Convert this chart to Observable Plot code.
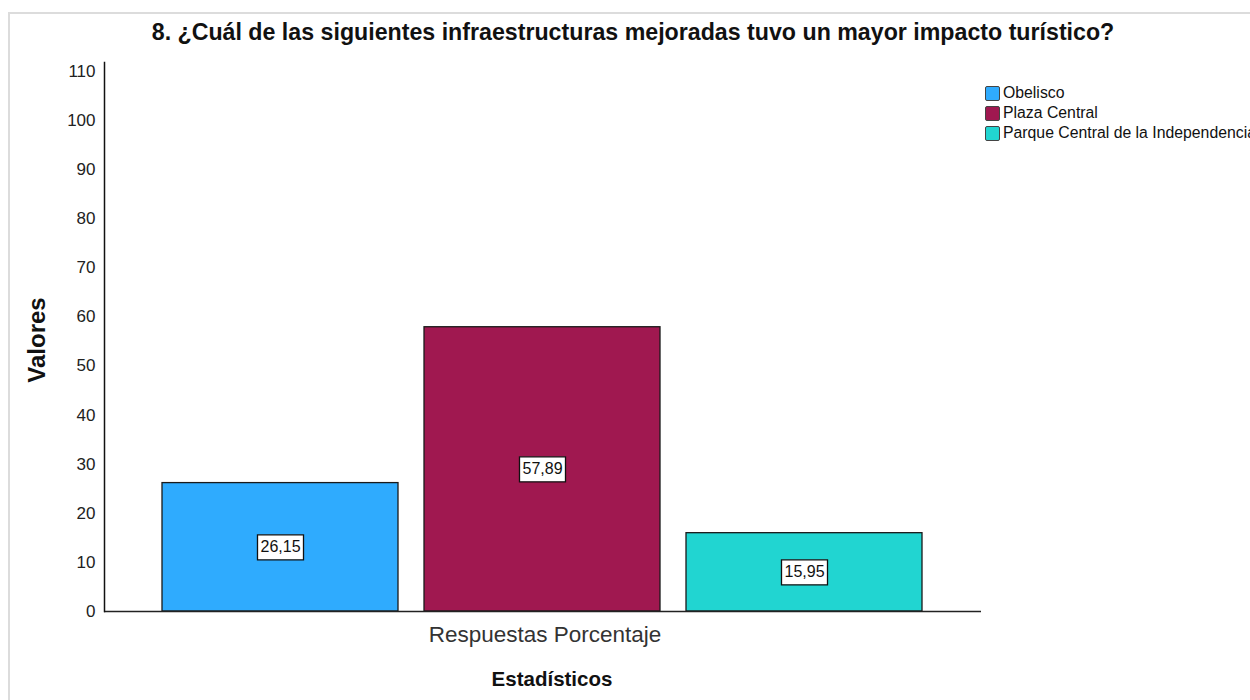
<!DOCTYPE html>
<html>
<head>
<meta charset="utf-8">
<script src="https://cdn.jsdelivr.net/npm/d3@7"></script>
<script src="https://cdn.jsdelivr.net/npm/@observablehq/plot@0.6"></script>
<style>
  html, body { margin: 0; padding: 0; background: #fff; overflow: hidden; }
  #wrap { position: relative; width: 1250px; height: 700px; overflow: hidden; font-family: "Liberation Sans", Arial, sans-serif; }
  #border { position: absolute; left: 8px; top: 12px; width: 1300px; height: 760px; border: 2px solid #dcdcdc; box-sizing: border-box; }
  #title { position: absolute; left: 0; top: 18px; width: 1266px; text-align: center; font-size: 23.2px; line-height: 28px; font-weight: bold; color: #111; white-space: nowrap; }
  #legend { position: absolute; left: 985px; top: 83px; font-size: 15.8px; color: #111; white-space: nowrap; }
  .item { display: flex; align-items: center; height: 20px; }
  .sw { width: 15px; height: 15px; border: 1px solid #444; border-radius: 2px; box-sizing: border-box; margin-right: 3px; flex: none; }
  #chart { position: absolute; left: 0; top: 0; }
</style>
</head>
<body>
<div id="wrap">
  <div id="border"></div>
  <div id="chart"></div>
  <div id="title"></div>
  <div id="legend"></div>
</div>
<script>
const title = "8. ¿Cuál de las siguientes infraestructuras mejoradas tuvo un mayor impacto turístico?";
const series = ["Obelisco", "Plaza Central", "Parque Central de la Independencia"];
const values = [26.15, 57.89, 15.95];
const colors = ["#2fabfe", "#a01850", "#21d5d1"];
const groupLabels = ["Respuestas Porcentaje"];
const yTicks = [0, 10, 20, 30, 40, 50, 60, 70, 80, 90, 100, 110];
const yTitle = "Valores";
const xTitle = "Estadísticos";

const data = series.map((s, i) => ({serie: s, valor: values[i]}));
const fmt = v => v.toFixed(2).replace(".", ",");
const boxSymbol = { draw(ctx) { ctx.rect(-23, -12.5, 46, 25); } };

document.getElementById("title").textContent = title;
const legend = document.getElementById("legend");
series.forEach((s, i) => {
  const item = document.createElement("div");
  item.className = "item";
  const sw = document.createElement("div");
  sw.className = "sw";
  sw.style.background = colors[i];
  const t = document.createElement("span");
  t.textContent = s;
  item.appendChild(sw);
  item.appendChild(t);
  legend.appendChild(item);
});

const chart = Plot.plot({
  width: 1250,
  height: 700,
  marginLeft: 104,
  marginRight: 269,
  marginTop: 62,
  marginBottom: 89,
  style: { fontFamily: "'Liberation Sans', Arial, sans-serif", background: "transparent" },
  x: { domain: series, paddingInner: 0.099, paddingOuter: 0.217, axis: null },
  y: { domain: [0, 111.8] },
  color: { domain: series, range: colors },
  marks: [
    Plot.barY(data, { x: "serie", y: "valor", fill: "serie", stroke: "#1a1a1a", strokeWidth: 1.3 }),
    Plot.ruleY([0], { stroke: "#222", strokeWidth: 1.3 }),
    Plot.frame({ anchor: "left", stroke: "#111", strokeWidth: 1.5 }),
    Plot.axisY({ ticks: yTicks, tickSize: 0, tickPadding: 9, fontSize: 17, label: null, fill: "#222" }),
    Plot.dot(data, { x: "serie", y: d => d.valor / 2, symbol: boxSymbol, fill: "white", stroke: "#111", strokeWidth: 1.3 }),
    Plot.text(data, { x: "serie", y: d => d.valor / 2, text: d => fmt(d.valor), fontSize: 16, fill: "#111" }),
    Plot.text(groupLabels, { text: d => d, frameAnchor: "bottom", dy: 30, dx: 2, fontSize: 22.5, fill: "#333" }),
    Plot.text([xTitle], { text: d => d, frameAnchor: "bottom", dy: 74, dx: 9, fontSize: 20.5, fontWeight: "bold", fill: "#111" }),
    Plot.text([yTitle], { text: d => d, frameAnchor: "left", textAnchor: "middle", dx: -67, dy: 3, rotate: -90, fontSize: 24, fontWeight: "bold", fill: "#111" })
  ]
});
document.getElementById("chart").appendChild(chart);
</script>
</body>
</html>
